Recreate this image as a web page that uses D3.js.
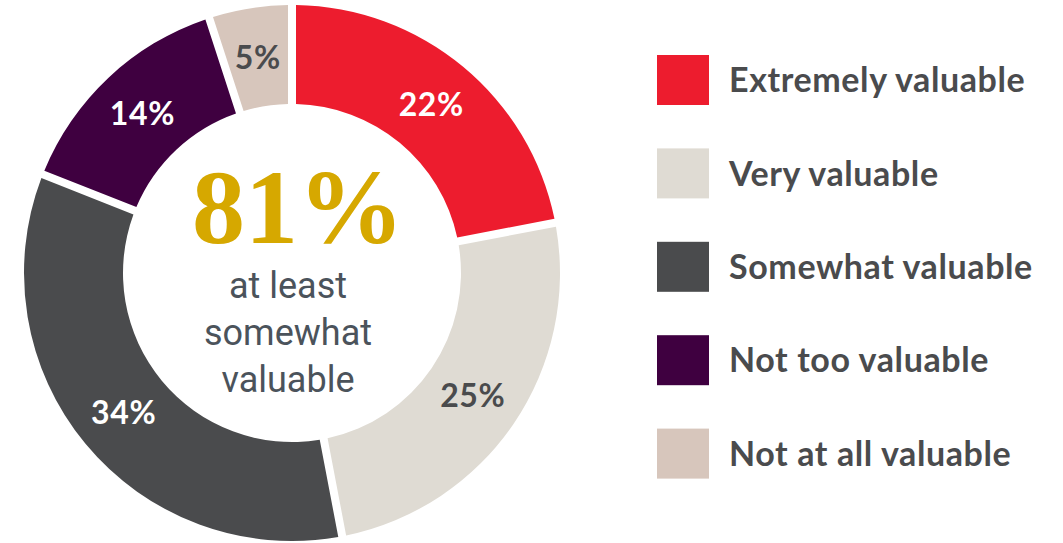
<!DOCTYPE html>
<html>
<head>
<meta charset="UTF-8">
<title>Value donut</title>
<script src="https://d3js.org/d3.v7.min.js"></script>
<style>
  body { margin: 0; background: #fff; }
  svg { display: block; }
  .pct { font-family: Lato, sans-serif; font-weight: 700; font-size: 32px; letter-spacing: 0.6px; }
  .legend text { font-family: Lato, sans-serif; font-weight: 700; font-size: 34px; fill: #4a4b4d; letter-spacing: 0.6px; }
  .big { font-family: "Liberation Serif", serif; font-weight: 700; font-size: 106px; fill: #d6a800; }
  .sub { font-family: Roboto, sans-serif; font-size: 36px; fill: #4b535b; }
</style>
</head>
<body>
<script>
// data
const categories = ['Extremely valuable', 'Very valuable', 'Somewhat valuable', 'Not too valuable', 'Not at all valuable'];
const values = [22, 25, 34, 14, 5];
const colors = ['#ed1c2e', '#dfdbd3', '#4a4b4d', '#3f0040', '#d7c6bc'];
const labelColors = ['#fff', '#4a4b4d', '#fff', '#fff', '#4a4b4d'];
const centerValue = '81%';
const centerLines = ['at least', 'somewhat', 'valuable'];

const width = 1063, height = 543;
const cx = 292, cy = 273;
const outerR = 268, innerR = 169;
const gap = 8;

const svg = d3.select('body').append('svg')
  .attr('width', width)
  .attr('height', height);

const data = categories.map((c, i) => ({ name: c, value: values[i], color: colors[i], label: labelColors[i] }));

const pie = d3.pie().sort(null).value(d => d.value);
const padR = Math.sqrt(innerR * innerR + outerR * outerR);
const arc = d3.arc()
  .innerRadius(innerR)
  .outerRadius(outerR)
  .padRadius(padR)
  .padAngle(gap / padR);

const g = svg.append('g').attr('transform', 'translate(' + cx + ',' + cy + ')');

const arcs = pie(data);

g.selectAll('path.slice')
  .data(arcs)
  .enter().append('path')
  .attr('class', 'slice')
  .attr('d', arc)
  .attr('fill', d => d.data.color);

g.selectAll('text.pct')
  .data(arcs)
  .enter().append('text')
  .attr('class', 'pct')
  .attr('x', d => arc.centroid(d)[0])
  .attr('y', d => arc.centroid(d)[1])
  .attr('dy', '0.36em')
  .attr('text-anchor', 'middle')
  .attr('fill', d => d.data.label)
  .text(d => d.data.value + '%');

// centre text
g.append('text')
  .attr('class', 'big')
  .attr('x', 6)
  .attr('y', -30)
  .attr('text-anchor', 'middle')
  .text(centerValue);

g.selectAll('text.sub')
  .data(centerLines)
  .enter().append('text')
  .attr('class', 'sub')
  .attr('x', -4)
  .attr('y', (d, i) => 25 + i * 47)
  .attr('text-anchor', 'middle')
  .text(d => d);

// legend
const legendY = d3.scaleBand().domain(categories).range([55, 522]).paddingInner(0);
const legend = svg.append('g').attr('class', 'legend');

const rows = legend.selectAll('g')
  .data(data)
  .enter().append('g')
  .attr('transform', d => 'translate(657,' + legendY(d.name) + ')');

rows.append('rect')
  .attr('width', 52)
  .attr('height', 50)
  .attr('fill', d => d.color);

rows.append('text')
  .attr('x', 72)
  .attr('y', 25)
  .attr('dy', '0.36em')
  .text(d => d.name);
</script>
</body>
</html>
